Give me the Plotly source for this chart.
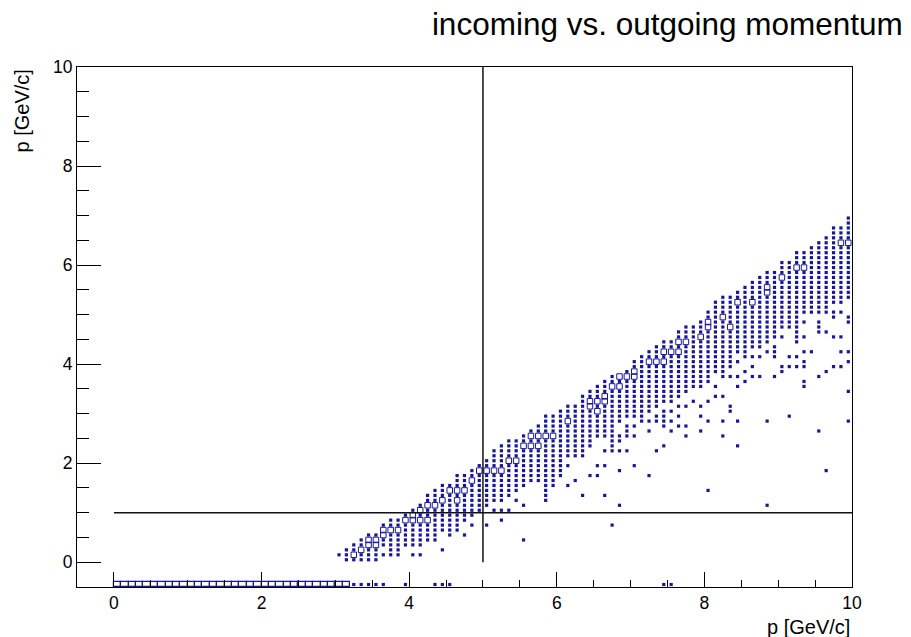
import plotly.graph_objects as go

# ---------------- data ----------------
TITLE = "incoming vs. outgoing momentum"
X_TITLE = "p [GeV/c]"
Y_TITLE = "p [GeV/c]"

x_major = [0, 2, 4, 6, 8, 10]
y_major = [0, 2, 4, 6, 8, 10]
major_labels = ["0", "2", "4", "6", "8", "10"]

# dense band: per x-bin column, the highest and lowest filled y-bin centre
col_x = [3.05, 3.15, 3.25, 3.35, 3.45, 3.55, 3.65, 3.75, 3.85, 3.95,
         4.05, 4.15, 4.25, 4.35, 4.45, 4.55, 4.65, 4.75, 4.85, 4.95,
         5.05, 5.15, 5.25, 5.35, 5.45, 5.55, 5.65, 5.75, 5.85, 5.95,
         6.05, 6.15, 6.25, 6.35, 6.45, 6.55, 6.65, 6.75, 6.85, 6.95,
         7.05, 7.15, 7.25, 7.35, 7.45, 7.55, 7.65, 7.75, 7.85, 7.95,
         8.05, 8.15, 8.25, 8.35, 8.45, 8.55, 8.65, 8.75, 8.85, 8.95,
         9.05, 9.15, 9.25, 9.35, 9.45, 9.55, 9.65, 9.75, 9.85, 9.95]
col_top = [0.15, 0.25, 0.35, 0.45, 0.55, 0.55, 0.75, 0.85, 0.85, 0.95,
           1.05, 1.15, 1.35, 1.45, 1.55, 1.55, 1.75, 1.75, 1.85, 1.95,
           2.05, 2.25, 2.35, 2.45, 2.45, 2.55, 2.65, 2.75, 2.95, 2.95,
           3.05, 3.15, 3.15, 3.35, 3.45, 3.55, 3.65, 3.75, 3.75, 3.85,
           4.05, 4.15, 4.25, 4.35, 4.45, 4.45, 4.65, 4.75, 4.75, 4.85,
           5.05, 5.25, 5.35, 5.35, 5.45, 5.55, 5.65, 5.75, 5.85, 5.85,
           6.05, 6.05, 6.25, 6.25, 6.35, 6.45, 6.55, 6.75, 6.75, 6.95]
col_bottom = [0.15, 0.05, 0.05, 0.05, 0.05, 0.05, 0.35, 0.35, 0.35, 0.35,
              0.35, 0.35, 0.45, 0.45, 0.65, 0.55, 0.65, 0.85, 0.95, 1.05,
              1.15, 1.25, 1.25, 1.35, 1.45, 1.55, 1.65, 1.65, 1.25, 1.55,
              1.75, 2.15, 2.15, 2.15, 2.35, 2.55, 2.55, 2.25, 2.85, 2.95,
              2.95, 2.85, 3.05, 3.15, 3.25, 3.25, 3.35, 3.45, 3.55, 3.55,
              3.65, 3.85, 3.75, 3.95, 4.25, 4.15, 4.35, 4.35, 4.45, 4.55,
              4.75, 4.75, 4.45, 5.05, 5.05, 5.05, 5.05, 5.25, 5.25, 5.35]

# isolated filled bins below the dense band
extra_x = [3.65, 3.75, 3.75, 3.85, 3.85, 4.05, 4.15, 4.45, 4.75, 4.85,
           5.05, 5.15, 5.25, 5.25, 5.35, 5.45, 5.55, 5.55,
           6.15, 6.15, 6.25, 6.35, 6.45, 6.55, 6.55, 6.65, 6.65, 6.65, 6.75,
           6.85, 6.85, 6.85, 6.85, 6.85, 6.95, 6.95, 6.95, 6.95,
           7.05, 7.05, 7.05, 7.25, 7.25, 7.25, 7.35, 7.35, 7.35,
           7.45, 7.45, 7.45, 7.45, 7.45, 7.55, 7.55, 7.55,
           7.65, 7.65, 7.65, 7.75, 7.75, 7.75, 7.85, 7.95, 7.95, 7.95,
           8.05, 8.05, 8.05, 8.15, 8.15, 8.25, 8.25, 8.25, 8.35, 8.35, 8.35,
           8.45, 8.45, 8.45, 8.45, 8.45, 8.55, 8.55, 8.65, 8.65, 8.65,
           8.75, 8.75, 8.85, 8.85, 8.85, 8.95, 8.95, 8.95, 8.95,
           9.05, 9.05, 9.05, 9.15, 9.15, 9.15, 9.25, 9.25,
           9.35, 9.35, 9.35, 9.35, 9.35, 9.35, 9.35, 9.45,
           9.55, 9.55, 9.55, 9.55, 9.55, 9.65, 9.65, 9.65,
           9.75, 9.75, 9.75, 9.75, 9.85, 9.85, 9.85, 9.85,
           9.95, 9.95, 9.95, 9.95, 9.95, 9.95]
extra_y = [0.15, 0.25, 0.15, 0.25, 0.15, 0.15, 0.15, 0.25, 0.55, 0.75,
           0.75, 1.05, 1.05, 0.85, 1.05, 1.25, 1.15, 0.45,
           1.95, 1.55, 1.65, 1.35, 1.75, 1.95, 1.75, 2.25, 1.95, 1.35, 0.75,
           2.55, 2.45, 2.25, 1.85, 1.15, 2.75, 2.65, 2.55, 2.25,
           2.75, 2.55, 1.95, 2.85, 2.65, 1.75, 2.95, 2.85, 2.25,
           3.05, 2.95, 2.85, 2.75, 2.35, 3.05, 2.85, 2.65,
           3.15, 2.95, 2.75, 3.15, 2.75, 2.55, 3.25, 3.15, 2.95, 2.65,
           3.25, 2.85, 1.45, 3.55, 3.35, 3.35, 2.85, 2.55, 3.75, 3.15, 3.05,
           4.05, 3.75, 3.55, 2.85, 2.35, 3.85, 3.65, 4.15, 3.95, 3.75,
           4.15, 3.75, 4.25, 2.85, 1.15, 4.35, 4.25, 4.15, 3.75,
           4.55, 3.95, 3.85, 4.15, 3.95, 2.95, 4.15, 3.95,
           4.85, 4.55, 4.25, 4.05, 3.95, 3.65, 3.55, 4.25,
           4.85, 4.75, 4.65, 3.75, 2.65, 4.65, 3.85, 1.85,
           5.05, 4.95, 4.55, 3.95, 5.05, 4.55, 4.25, 3.95,
           4.95, 4.85, 4.25, 4.05, 3.45, 2.85]

# bins with larger content (drawn as larger open boxes)
big_x = [3.25, 3.35, 3.45, 3.55, 3.45, 3.55, 3.65, 3.75, 3.85, 3.65,
         3.95, 4.05, 4.05, 4.15, 4.15, 4.25, 4.25, 4.35, 4.45, 4.55,
         4.65, 4.65, 4.75, 4.85, 4.95, 5.05, 5.15, 5.25, 5.35, 5.45,
         5.55, 5.65, 5.65, 5.75, 5.75, 5.85, 5.95, 6.15, 6.45, 6.45,
         6.55, 6.55, 6.65, 6.65, 6.75, 6.85, 6.85, 6.95, 7.05, 7.05,
         7.25, 7.35, 7.45, 7.45, 7.55, 7.65, 7.65, 7.75, 7.95, 8.05,
         8.05, 8.25, 8.35, 8.45, 8.65, 8.85, 8.85, 9.05, 9.25, 9.35,
         9.85, 9.95]
big_y = [0.15, 0.25, 0.45, 0.45, 0.35, 0.35, 0.65, 0.65, 0.65, 0.55,
         0.85, 0.95, 0.85, 1.05, 0.85, 1.15, 0.85, 1.15, 1.25, 1.45,
         1.45, 1.25, 1.45, 1.65, 1.85, 1.85, 1.85, 1.85, 2.05, 2.05,
         2.35, 2.55, 2.35, 2.55, 2.35, 2.55, 2.55, 2.85, 3.25, 3.15,
         3.25, 3.05, 3.35, 3.25, 3.55, 3.75, 3.55, 3.75, 3.85, 3.75,
         4.05, 4.05, 4.25, 4.05, 4.25, 4.45, 4.25, 4.45, 4.55, 4.75,
         4.85, 4.95, 4.75, 5.25, 5.25, 5.55, 5.45, 5.75, 5.95, 5.95,
         6.45, 6.45]

# lowest y-bin (no outgoing track): full bins and single entries
ROW_Y_LOW = -0.5
ROW_BIN_H = 0.1
row_full_x = [0.05, 0.15, 0.25, 0.35, 0.45, 0.55, 0.65, 0.75, 0.85, 0.95,
              1.05, 1.15, 1.25, 1.35, 1.45, 1.55, 1.65, 1.75, 1.85, 1.95,
              2.05, 2.15, 2.25, 2.35, 2.45, 2.55, 2.65, 2.75, 2.85, 2.95,
              3.05, 3.15]
row_small_x = [3.25, 3.35, 3.45, 3.55, 3.65, 3.95, 4.35, 4.45, 4.55, 7.45, 7.55]
ROW_Y = -0.45

# cut lines
CUT_X = 5.0
CUT_Y = 1.0
CUT_X_SPAN = [0.0, 10.0]
CUT_Y_SPAN = [0.0, 10.0]

NAVY = "#16169c"
FONT = "Liberation Sans, Arial, Helvetica, sans-serif"

# ---------------- build bins ----------------
big = set(zip(big_x, big_y))
cells = []
for x, top, bot in zip(col_x, col_top, col_bottom):
    n = int(round((top - bot) / 0.1)) + 1
    for k in range(n):
        y = round(bot + 0.1 * k, 2)
        cells.append((x, y))
for x, y in zip(extra_x, extra_y):
    cells.append((x, y))
seen = set()
small_x, small_y = [], []
for c in cells:
    if c in seen or c in big:
        continue
    seen.add(c)
    small_x.append(c[0])
    small_y.append(c[1])

fig = go.Figure()

fig.add_trace(go.Bar(
    x=row_full_x, y=[ROW_BIN_H] * len(row_full_x), base=ROW_Y_LOW, width=0.1,
    marker=dict(color="rgba(0,0,0,0)", line=dict(color=NAVY, width=1.2)),
    hoverinfo="skip"))

fig.add_trace(go.Scatter(
    x=small_x + row_small_x, y=small_y + [ROW_Y] * len(row_small_x),
    mode="markers",
    marker=dict(symbol="square", size=3.2, color=NAVY, line=dict(width=0))))

fig.add_trace(go.Scatter(
    x=big_x, y=big_y, mode="markers",
    marker=dict(symbol="square-open", size=5.5, color=NAVY,
                line=dict(width=1, color=NAVY))))

fig.add_trace(go.Scatter(x=[CUT_X, CUT_X], y=CUT_Y_SPAN, mode="lines",
                         line=dict(color="#111111", width=1.5)))
fig.add_trace(go.Scatter(x=CUT_X_SPAN, y=[CUT_Y, CUT_Y], mode="lines",
                         line=dict(color="#111111", width=1.5)))

x_minor = [v / 2 for v in range(1, 20) if v % 4 != 0]
y_minor = [v / 2 for v in range(1, 20) if v % 4 != 0]

axis_common = dict(showline=True, mirror=True, linecolor="black", linewidth=1,
                   ticks="inside", tickcolor="black", tickwidth=1,
                   showgrid=False, zeroline=False, tickmode="array",
                   ticktext=major_labels,
                   tickfont=dict(size=17.5, family=FONT, color="black"))

# the page body adds an 8 px margin, so the figure is 8 px smaller than the window
fig.update_layout(
    width=903, height=629,
    margin=dict(l=69, r=59, t=59, b=50),
    paper_bgcolor="white", plot_bgcolor="white",
    showlegend=False, bargap=0,
    font=dict(family=FONT, size=17, color="black"),
    title=dict(text=TITLE, font=dict(size=31.5, family=FONT, color="black"),
               xref="container", x=0.991, xanchor="right",
               yref="container", y=0.992, yanchor="top"),
    xaxis=dict(range=[-0.5, 10], tickvals=x_major, ticklen=15,
               minor=dict(tickmode="array", tickvals=x_minor, ticks="inside",
                          ticklen=7, tickcolor="black", tickwidth=1),
               **axis_common),
    yaxis=dict(range=[-0.5, 10], tickvals=y_major, ticklen=24,
               minor=dict(tickmode="array", tickvals=y_minor, ticks="inside",
                          ticklen=12, tickcolor="black", tickwidth=1),
               **axis_common),
    annotations=[
        dict(text=X_TITLE, xref="paper", yref="paper", x=1, y=-0.076,
             xanchor="right", yanchor="middle", showarrow=False,
             font=dict(size=20, family=FONT, color="black")),
        dict(text=Y_TITLE, xref="paper", yref="paper", x=-0.071, y=1,
             xanchor="center", yanchor="top", textangle=-90, showarrow=False,
             font=dict(size=20, family=FONT, color="black")),
    ],
)

fig.write_html("out.html")
